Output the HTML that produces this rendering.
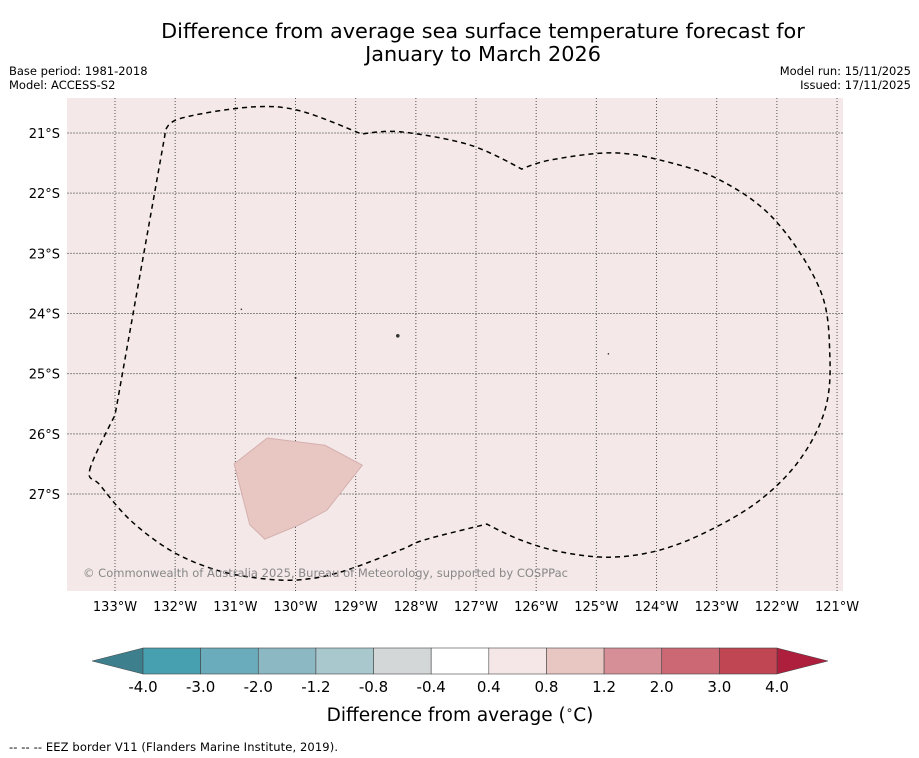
<!DOCTYPE html>
<html><head><meta charset="utf-8"><style>
body{margin:0;background:#fff;width:919px;height:758px;overflow:hidden;font-family:"DejaVu Sans","Liberation Sans",sans-serif}
svg{position:absolute;left:0;top:0}
</style></head><body>
<svg id="c" width="919" height="758" xmlns="http://www.w3.org/2000/svg">
<text x="483" y="38" font-size="20.8" text-anchor="middle">Difference from average sea surface temperature forecast for</text>
<text x="483" y="61" font-size="20.8" text-anchor="middle">January to March 2026</text>
<text x="9" y="75" font-size="11.5">Base period: 1981-2018</text>
<text x="9" y="89" font-size="11.5">Model: ACCESS-S2</text>
<text x="911" y="75" font-size="11.5" text-anchor="end">Model run: 15/11/2025</text>
<text x="911" y="89" font-size="11.5" text-anchor="end">Issued: 17/11/2025</text>
<rect x="67" y="98" width="776" height="493" fill="#f4e8e8"/>
<g id="grid"></g>
<g id="marks"></g>
<text x="83" y="577" font-size="11.5" fill="#888" textLength="485">© Commonwealth of Australia 2025, Bureau of Meteorology, supported by COSPPac</text>
<g id="cbar"></g>
<text x="460" y="721" font-size="18.5" text-anchor="middle">Difference from average (<tspan font-size="12" dy="-7">∘</tspan><tspan dy="7">C)</tspan></text>
<text x="9" y="751" font-size="11.5" textLength="329">--  --  -- EEZ border V11 (Flanders Marine Institute, 2019).</text>
</svg>
<script>
const lonTicks=[-133,-132,-131,-130,-129,-128,-127,-126,-125,-124,-123,-122,-121];
const latTicks=[-21,-22,-23,-24,-25,-26,-27];
const eezLon=[-133.42,-133.00,-132.17,-131.95,-130.76,-129.93,-128.90,-128.26,-127.10,-126.24,-125.77,-124.77,-123.94,-122.95,-122.03,-121.28,-121.12,-121.20,-121.62,-122.28,-123.11,-123.94,-124.77,-125.60,-126.27,-126.82,-127.85,-128.26,-129.26,-130.01,-130.76,-131.42,-132.09,-132.75,-133.25];
const eezLat=[-26.60,-25.69,-21.03,-20.77,-20.57,-20.63,-21.02,-20.98,-21.20,-21.60,-21.45,-21.33,-21.45,-21.78,-22.45,-23.61,-24.69,-25.60,-26.43,-27.10,-27.60,-27.93,-28.05,-27.96,-27.76,-27.50,-27.76,-27.93,-28.30,-28.43,-28.38,-28.23,-27.93,-27.43,-26.85];
const warmLon=[-131.02,-130.47,-129.51,-128.89,-129.48,-129.93,-130.51,-130.76];
const warmLat=[-26.50,-26.07,-26.19,-26.52,-27.27,-27.51,-27.75,-27.51];
const cbLevels=["-4.0","-3.0","-2.0","-1.2","-0.8","-0.4","0.4","0.8","1.2","2.0","3.0","4.0"];
const cbColors=["#47a0b0","#6aacbb","#8cb8c4","#a9c8cd","#d3d7d8","#ffffff","#f5e7e7","#e8c6c2","#d68f96","#cb6874","#c04653"];
const NS="http://www.w3.org/2000/svg";
const X=lon=>115+(lon+133)*60.17;
const Y=lat=>133+(-21-lat)*60.17;
function mk(t,a,p){const e=document.createElementNS(NS,t);for(const k in a)e.setAttribute(k,a[k]);p.appendChild(e);return e;}
const grid=document.getElementById('grid'),marks=document.getElementById('marks'),cb=document.getElementById('cbar');
lonTicks.forEach(l=>{
 const ln=mk('line',{x1:X(l),x2:X(l),y1:98,y2:591,stroke:'#555','stroke-width':1,'stroke-dasharray':'1,2'},grid);
 
 
 const t=mk('text',{x:X(l),y:611,'font-size':13,'text-anchor':'middle'},grid);
 t.textContent=Math.abs(l)+'°W';
 
 
});
latTicks.forEach(l=>{
 const ln=mk('line',{x1:67,x2:843,y1:Y(l),y2:Y(l),stroke:'#888','stroke-width':1,'stroke-dasharray':'2,1'},grid);
 
 
 const t=mk('text',{x:60,y:Y(l)+5,'font-size':13,'text-anchor':'end'},grid);
 t.textContent=Math.abs(l)+'°S';
 
 
});
const wp=mk('polygon',{points:warmLon.map((v,i)=>X(v)+','+Y(warmLat[i])).join(' '),fill:'#e8c6c2',stroke:'#d4b0ae','stroke-width':1},marks);


// smooth closed Catmull-Rom path
const P=eezLon.map((v,i)=>[X(v),Y(eezLat[i])]);
const n=P.length;let d='M'+P[0][0]+','+P[0][1];
const sharp=new Set([1,2,6,9,25]);
for(let i=0;i<n;i++){
 const p0=P[(i-1+n)%n],p1=P[i],p2=P[(i+1)%n],p3=P[(i+2)%n];
 const k1=sharp.has(i)?0:1/6,k2=sharp.has((i+1)%n)?0:1/6;
 const c1=[p1[0]+(p2[0]-p0[0])*k1,p1[1]+(p2[1]-p0[1])*k1];
 const c2=[p2[0]-(p3[0]-p1[0])*k2,p2[1]-(p3[1]-p1[1])*k2];
 d+=` C${c1[0]},${c1[1]} ${c2[0]},${c2[1]} ${p2[0]},${p2[1]}`;
}
const ez=mk('path',{d:d+'Z',fill:'none',stroke:'#000','stroke-width':1.5,'stroke-dasharray':'5,4'},marks);


[[-128.3,-24.37,1.8],[-130.0,-25.07,1],[-130.9,-23.93,0.8],[-124.8,-24.67,0.8]].forEach(p=>{
 const c=mk('circle',{cx:X(p[0]),cy:Y(p[1]),r:p[2],fill:'#333'},marks);
 
 
});
const bx0=143,bx1=777,by=648,bh=26,bw=(bx1-bx0)/cbColors.length;
const tl=mk('polygon',{points:`92,${by+bh/2} ${bx0},${by} ${bx0},${by+bh}`,fill:'#3d7f8c',stroke:'#444','stroke-width':0.5},cb);


const tr=mk('polygon',{points:`828,${by+bh/2} ${bx1},${by} ${bx1},${by+bh}`,fill:'#ad1f3d',stroke:'#444','stroke-width':0.5},cb);


cbColors.forEach((c,i)=>{
 const r=mk('rect',{x:bx0+i*bw,y:by,width:bw,height:bh,fill:c,stroke:'#444','stroke-width':0.6},cb);
 
 
});
cbLevels.forEach((s,i)=>{
 const t=mk('text',{x:bx0+i*bw,y:692,'font-size':15,'text-anchor':'middle'},cb);
 t.textContent=s;
 
 
});
</script>
</body></html>
